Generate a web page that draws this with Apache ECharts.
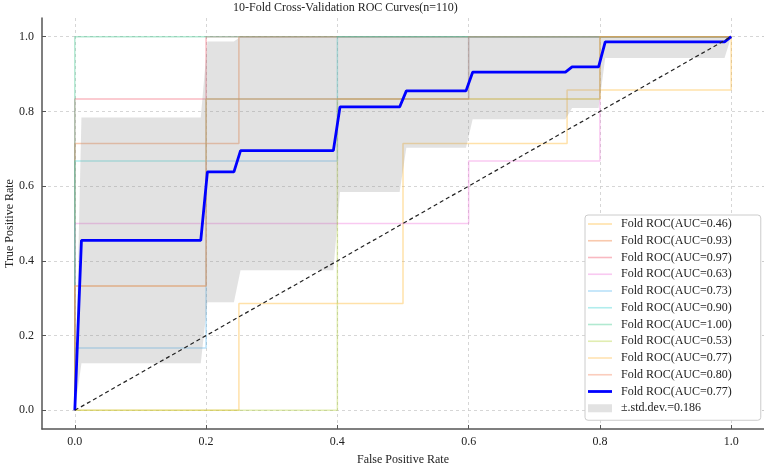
<!DOCTYPE html>
<html>
<head>
<meta charset="utf-8">
<title>10-Fold Cross-Validation ROC Curves</title>
<script src="https://cdn.jsdelivr.net/npm/echarts@6.0.0/dist/echarts.min.js"></script>
<style>
  html, body { margin: 0; padding: 0; background: #fff; }
  #chart { width: 764px; height: 466px; }
</style>
</head>
<body>
<div id="chart"></div>
<script>
// per-fold ROC points (fpr / tpr)
const fold1Fpr = [0, 0.25, 0.25, 0.5, 0.5, 0.75, 0.75, 1, 1]
const fold1Tpr = [0, 0, 0.286, 0.286, 0.714, 0.714, 0.857, 0.857, 1]
const fold2Fpr = [0, 0, 0.25, 0.25, 1]
const fold2Tpr = [0, 0.714, 0.714, 1, 1]
const fold3Fpr = [0, 0, 0.2, 0.2, 1]
const fold3Tpr = [0, 0.833, 0.833, 1, 1]
const fold4Fpr = [0, 0, 0.6, 0.6, 0.8, 0.8, 1]
const fold4Tpr = [0, 0.5, 0.5, 0.667, 0.667, 1, 1]
const fold5Fpr = [0, 0, 0.2, 0.2, 0.4, 0.4, 0.6, 0.6, 1]
const fold5Tpr = [0, 0.167, 0.167, 0.667, 0.667, 0.833, 0.833, 1, 1]
const fold6Fpr = [0, 0, 0.2, 0.2, 0.4, 0.4, 1]
const fold6Tpr = [0, 0.667, 0.667, 0.833, 0.833, 1, 1]
const fold7Fpr = [0, 0, 1]
const fold7Tpr = [0, 1, 1]
const fold8Fpr = [0, 0.4, 0.4, 0.8, 0.8, 1]
const fold8Tpr = [0, 0, 0.833, 0.833, 1, 1]
const fold9Fpr = [0, 0, 0.2, 0.2, 0.8, 0.8, 1]
const fold9Tpr = [0, 0.333, 0.333, 0.833, 0.833, 1, 1]
const fold10Fpr = [0, 0, 0.2, 0.2, 0.6, 0.6, 1]
const fold10Tpr = [0, 0.333, 0.333, 0.833, 0.833, 1, 1]
const foldAuc = ['0.46', '0.93', '0.97', '0.63', '0.73', '0.90', '1.00', '0.53', '0.77', '0.80']

// mean curve and std band
const meanFpr = [0, 0.0101, 0.1919, 0.2020, 0.2424, 0.2525, 0.3939, 0.4040, 0.4949, 0.5051, 0.5960, 0.6061, 0.7475, 0.7576, 0.7980, 0.8081, 0.9899, 1.0]
const meanTpr = [0, 0.455, 0.455, 0.638, 0.638, 0.695, 0.695, 0.812, 0.812, 0.855, 0.855, 0.905, 0.905, 0.919, 0.919, 0.986, 0.986, 1.0]
const stdUpper = [0, 0.784, 0.784, 0.987, 0.987, 1, 1, 1, 1, 1, 1, 1, 1, 1, 1, 1, 1, 1]
const stdLower = [0, 0.126, 0.126, 0.289, 0.289, 0.375, 0.375, 0.584, 0.584, 0.703, 0.703, 0.779, 0.779, 0.809, 0.809, 0.943, 0.943, 1]
const meanAuc = '0.77'
const stdAuc = '0.186'

// chance line
const chanceX = [0, 1]
const chanceY = [0, 1]

const tickValues = [0, 0.2, 0.4, 0.6, 0.8, 1.0]

const foldFpr = [fold1Fpr, fold2Fpr, fold3Fpr, fold4Fpr, fold5Fpr, fold6Fpr, fold7Fpr, fold8Fpr, fold9Fpr, fold10Fpr]
const foldTpr = [fold1Tpr, fold2Tpr, fold3Tpr, fold4Tpr, fold5Tpr, fold6Tpr, fold7Tpr, fold8Tpr, fold9Tpr, fold10Tpr]
const foldColors = [
  'rgba(255,180,40,0.4)',
  'rgba(240,120,50,0.4)',
  'rgba(240,80,100,0.4)',
  'rgba(240,120,220,0.4)',
  'rgba(80,180,240,0.4)',
  'rgba(60,210,210,0.4)',
  'rgba(60,200,140,0.4)',
  'rgba(180,210,60,0.4)',
  'rgba(255,185,60,0.4)',
  'rgba(245,130,90,0.4)'
]

const serif = "'Liberation Serif', 'DejaVu Serif', serif"
const foldNames = foldAuc.map(a => 'Fold ROC(AUC=' + a + ')')
// trailing space keeps the mean entry apart from the fold with the same AUC
const meanName = 'Fold ROC(AUC=' + meanAuc + ') '
const stdName = '±.std.dev.=' + stdAuc

const thinLine = 'path://M0,0h24v1.6h-24z'
const thickLine = 'path://M0,0h24v2.8h-24z'

const chart = echarts.init(document.getElementById('chart'), null, { renderer: 'canvas' })

const foldSeries = foldFpr.map((fpr, k) => ({
  name: foldNames[k],
  type: 'line',
  data: fpr.map((x, i) => [x, foldTpr[k][i]]),
  symbol: 'none',
  lineStyle: { width: 1.5, color: foldColors[k] },
  itemStyle: { color: foldColors[k] },
  z: 2,
  silent: true
}))

const axisCommon = {
  type: 'value',
  min: -0.05,
  max: 1.05,
  axisLine: { show: true, onZero: false, lineStyle: { color: '#555', width: 1.5 } },
  axisTick: { show: true, inside: true, length: 4, customValues: tickValues, lineStyle: { color: '#555' } },
  axisLabel: {
    customValues: tickValues,
    formatter: v => v.toFixed(1),
    fontFamily: serif,
    fontSize: 12,
    color: '#222'
  },
  splitLine: { show: true, lineStyle: { color: '#ccc', width: 0.8, type: [3, 3] } },
  nameLocation: 'middle',
  nameMoveOverlap: false,
  nameTextStyle: { fontFamily: serif, fontSize: 12, color: '#222' }
}

chart.setOption({
  animation: false,
  backgroundColor: '#fff',
  title: {
    text: '10-Fold Cross-Validation ROC Curves(n=110)',
    left: 233,
    top: 2,
    padding: 0,
    textStyle: { fontFamily: serif, fontSize: 12, fontWeight: 'normal', color: '#222' }
  },
  grid: { left: 42, right: 0, top: 18, bottom: 37, containLabel: false, outerBoundsMode: 'none' },
  legend: {
    orient: 'vertical',
    left: 585,
    top: 215,
    padding: [3, 26, 6, 3],
    itemWidth: 24,
    itemHeight: 12,
    itemGap: 4.75,
    backgroundColor: '#fff',
    borderColor: '#ccc',
    borderWidth: 1,
    borderRadius: 3,
    textStyle: { fontFamily: serif, fontSize: 12, color: '#222', padding: [0, 0, 0, 4] },
    data: [
      ...foldNames.map(n => ({ name: n, icon: thinLine })),
      { name: meanName, icon: thickLine },
      { name: stdName, icon: 'path://M0,0h24v8h-24z' }
    ]
  },
  xAxis: Object.assign({}, axisCommon, {
    name: 'False Positive Rate',
    nameGap: 25,
    axisLabel: Object.assign({}, axisCommon.axisLabel, { margin: 7 })
  }),
  yAxis: Object.assign({}, axisCommon, {
    name: 'True Positive Rate',
    nameGap: 26,
    axisLabel: Object.assign({}, axisCommon.axisLabel, { margin: 8 })
  }),
  series: [
    ...foldSeries,
    {
      name: stdName,
      type: 'custom',
      data: meanFpr.map((x, i) => [x, stdUpper[i], stdLower[i]]),
      encode: { x: 0, y: [1, 2] },
      itemStyle: { color: 'rgba(140,140,140,0.25)' },
      z: 3,
      silent: true,
      renderItem: (params, api) => {
        if (params.dataIndex !== 0) return
        const top = meanFpr.map((x, i) => api.coord([x, stdUpper[i]]))
        const bottom = meanFpr.map((x, i) => api.coord([x, stdLower[i]])).reverse()
        return {
          type: 'polygon',
          shape: { points: top.concat(bottom) },
          style: { fill: 'rgba(140,140,140,0.25)' }
        }
      }
    },
    {
      name: meanName,
      type: 'line',
      data: meanFpr.map((x, i) => [x, meanTpr[i]]),
      symbol: 'none',
      lineStyle: { width: 2.8, color: '#0000ff' },
      itemStyle: { color: '#0000ff' },
      z: 4,
      silent: true
    },
    {
      name: 'chance',
      type: 'line',
      data: chanceX.map((x, i) => [x, chanceY[i]]),
      symbol: 'none',
      lineStyle: { width: 1.2, color: '#222', type: [4, 3] },
      z: 5,
      silent: true
    }
  ]
})
</script>
</body>
</html>
